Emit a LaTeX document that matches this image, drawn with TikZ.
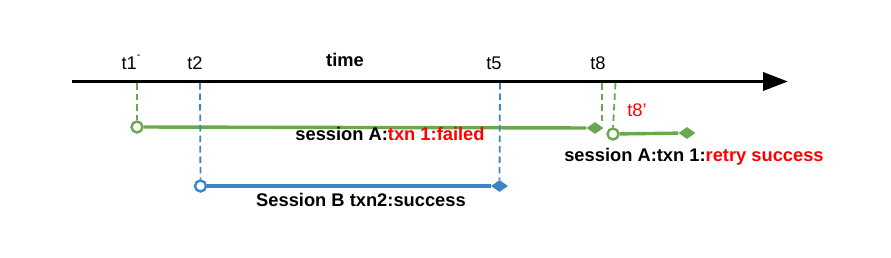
\documentclass[tikz,border=0pt]{standalone}
\usepackage{fontspec}
\setmainfont{Liberation Sans}
\usetikzlibrary{shapes.geometric,arrows.meta}
\definecolor{gA}{HTML}{6AA84F}
\definecolor{bB}{HTML}{3D85C6}
\definecolor{rR}{HTML}{FF0000}
\begin{document}
\begin{tikzpicture}[x=1pt,y=-1pt,
  lbl/.style={font=\fontsize{18.3}{21}\selectfont, anchor=base, inner sep=0pt},
  blbl/.style={lbl, font=\fontsize{18.3}{21}\selectfont\bfseries},
  guide/.style={line width=1.8pt, dash pattern=on 6.5pt off 4pt},
  startc/.style={circle, draw, line width=2.4pt, fill=white, minimum size=11pt, inner sep=0pt},
  endd/.style={diamond, fill, inner sep=0pt, minimum width=17pt, minimum height=12pt},
  seg/.style={line width=3.4pt}]
\useasboundingbox (0,0) rectangle (891,257);
% time axis
\coordinate (ax0) at (72,81.5);
\coordinate (ax1) at (788,81.5);
\draw[line width=3.8pt, -{Triangle[length=25pt,width=18pt]}] (ax0) -- (ax1);
% labels on axis
\node[lbl] (lt1) at (131,69) {t1\raisebox{11pt}{\fontsize{11}{11}\selectfont -}};
\node[lbl] (lt2) at (195,69) {t2};
\node[blbl] (ltime) at (345,66) {time};
\node[lbl] (lt5) at (494,69) {t5};
\node[lbl] (lt8) at (598,69) {t8};
% axis foot points
\coordinate (f1) at (137,83);
\coordinate (f2) at (200,83);
\coordinate (f5) at (500,83);
\coordinate (f8) at (602,83);
\coordinate (f8b) at (615.5,83);
% session A first attempt
\node[startc, draw=gA] (a1s) at (137,127) {};
\node[endd, fill=gA] (a1e) at (595,128) {};
\draw[guide, gA] (f1) -- (a1s);
\draw[seg, gA] (a1s) -- (a1e);
\coordinate (g8) at (602,123);
\draw[guide, gA] (f8) -- (g8);
\node[blbl] (la1) at (390,140) {session A:\textcolor{rR}{txn 1:failed}};
% session B
\node[startc, draw=bB] (bs) at (200.5,186) {};
\node[endd, fill=bB] (be) at (499.5,186) {};
\draw[guide, bB] (f2) -- (bs);
\draw[guide, bB] (f5) -- (be.north);
\draw[seg, bB] (bs) -- (be);
\node[blbl] (lb) at (361,206) {Session B txn2:success};
% session A retry
\node[startc, draw=gA] (a2s) at (613,134) {};
\node[endd, fill=gA] (a2e) at (687,133) {};
\draw[guide, gA] (f8b) -- (a2s.north);
\draw[seg, gA] (a2s) -- (a2e);
\node[lbl, text=rR] (lt8b) at (637,116) {t8’};
\node[blbl] (la2) at (694,161) {session A:txn 1:\textcolor{rR}{retry success}};
\end{tikzpicture}
\end{document}
